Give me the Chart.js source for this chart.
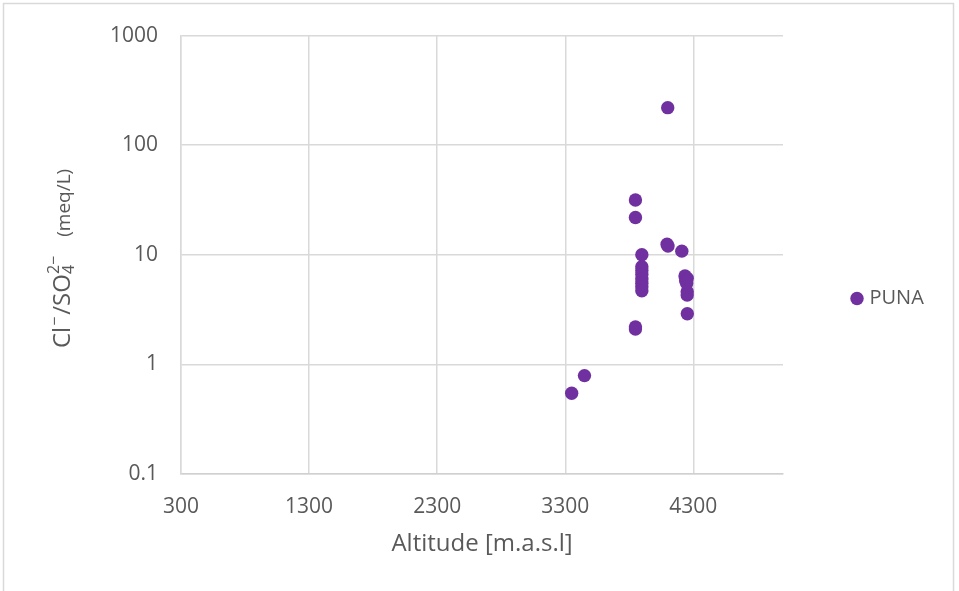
<!DOCTYPE html>
<html>
<head>
<meta charset="utf-8">
<title>PUNA – Cl/SO4 vs altitude</title>
<script src="https://cdn.jsdelivr.net/npm/chart.js@4.4.1/dist/chart.umd.min.js"></script>
<style>
  html, body { margin: 0; padding: 0; background: #ffffff; }
  #wrap { width: 959px; height: 591px; position: relative; }
</style>
</head>
<body>
<div id="wrap"><canvas id="chart" width="959" height="591"></canvas></div>
<script>
// Sample altitudes (m a.s.l.) and Cl-/SO4 2- ratios (meq/L), PUNA group
const seriesName = 'PUNA';
const altitude = [
  4100, 3848, 3848, 4095, 4102, 4210, 3898,
  3898, 3898, 3898, 3898, 3898, 3898, 3898,
  4235, 4252, 4240, 4248, 4252, 4252, 4253,
  3848, 3848, 3450, 3350
];
const clSo4Ratio = [
  220, 31.6, 21.9, 12.5, 12.0, 10.8, 10.0,
  7.8, 7.2, 6.6, 6.0, 5.5, 5.1, 4.7,
  6.4, 6.1, 5.8, 5.5, 4.6, 4.3, 2.9,
  2.2, 2.1, 0.79, 0.545
];
const xTicks = [300, 1300, 2300, 3300, 4300];
const yTicks = [0.1, 1, 10, 100, 1000];
const xRange = [300, 5000];
const yRange = [0.1, 1000];

const FONT = "'Open Sans', 'Liberation Sans', sans-serif";
const TEXT = '#595959';
const GRID = '#d9d9d9';
const PURPLE = '#7030a0';

const points = altitude.map((x, i) => ({ x: x, y: clSo4Ratio[i] }));

// Light frame around the whole chart
const framePlugin = {
  id: 'frame',
  beforeDraw(chart) {
    const ctx = chart.ctx;
    ctx.save();
    ctx.fillStyle = '#ffffff';
    ctx.fillRect(0, 0, chart.width, chart.height);
    ctx.strokeStyle = '#d9d9d9';
    ctx.lineWidth = 1.5;
    ctx.strokeRect(3.5, 3.5, 950, 600);
    ctx.restore();
  }
};

// Vertical axis title with chemical sub/superscripts
const yTitlePlugin = {
  id: 'yTitle',
  afterDraw(chart) {
    const ctx = chart.ctx;
    const parts = [
      { t: 'Cl', size: 24, dy: 0, gapAfter: 1 },
      { t: '\u2212', size: 16, dy: -10, gapAfter: 2 },
      { t: '/SO', size: 24, dy: 0 },
      { stack: [{ t: '4', size: 16, dy: 4 }, { t: '2\u2212', size: 16, dy: -11 }], gapAfter: 19 },
      { t: '(meq/L)', size: 19, dy: 0 }
    ];
    ctx.save();
    ctx.translate(70, 348);
    ctx.rotate(-Math.PI / 2);
    ctx.fillStyle = TEXT;
    ctx.textBaseline = 'alphabetic';
    ctx.textAlign = 'left';
    let x = 0;
    parts.forEach(p => {
      if (p.stack) {
        let w = 0;
        p.stack.forEach(s => {
          ctx.font = s.size + 'px ' + FONT;
          ctx.fillText(s.t, x, s.dy);
          w = Math.max(w, ctx.measureText(s.t).width);
        });
        x += w + (p.gapAfter || 0);
      } else {
        ctx.font = p.size + 'px ' + FONT;
        ctx.fillText(p.t, x, p.dy);
        x += ctx.measureText(p.t).width + (p.gapAfter || 0);
      }
    });
    ctx.restore();
  }
};

// Legend sits to the right, vertically centred on the whole canvas
const legendPlacePlugin = {
  id: 'legendPlace',
  beforeLayout(chart) {
    const lg = chart.legend;
    if (lg && !lg._fixedFit) {
      const fit = lg.fit;
      lg.fit = function () {
        fit.call(this);
        if (this.isHorizontal && !this.isHorizontal()) this.width = 176;
      };
      lg._fixedFit = true;
    }
  },
  afterLayout(chart) {
    const lg = chart.legend;
    if (lg) { lg.top = 6; lg.bottom = 591; lg.height = lg.bottom - lg.top; }
  }
};

new Chart(document.getElementById('chart'), {
  type: 'scatter',
  data: {
    datasets: [{
      label: seriesName,
      data: points,
      backgroundColor: PURPLE,
      borderColor: PURPLE,
      borderWidth: 0,
      pointRadius: 6.7,
      pointHoverRadius: 6.7
    }]
  },
  options: {
    responsive: false,
    animation: false,
    devicePixelRatio: 1,
    layout: { padding: { top: 32, right: 0, bottom: 0, left: 0 } },
    plugins: {
      tooltip: { enabled: false },
      legend: {
        display: true,
        position: 'right',
        labels: {
          usePointStyle: true,
          pointStyle: 'circle',
          boxWidth: 5,
          boxHeight: 9.5,
          padding: 71.5,
          color: TEXT,
          font: { family: FONT, size: 20 }
        }
      }
    },
    scales: {
      x: {
        type: 'linear',
        min: xRange[0],
        max: xRange[1],
        afterFit(s) { s.height = 117; },
        afterBuildTicks(s) { s.ticks = xTicks.map(v => ({ value: v })); },
        grid: { color: GRID, lineWidth: 1.5, drawTicks: false },
        border: { color: '#d0d0d0', width: 1.5 },
        ticks: {
          padding: 20,
          color: TEXT,
          font: { family: FONT, size: 21 },
          maxRotation: 0,
          callback: v => String(v)
        },
        title: {
          display: true,
          text: 'Altitude [m.a.s.l]',
          color: TEXT,
          font: { family: FONT, size: 24 },
          padding: { top: 0, bottom: 32 }
        }
      },
      y: {
        type: 'logarithmic',
        min: yRange[0],
        max: yRange[1],
        afterFit(s) { s.width = 181; },
        afterBuildTicks(s) { s.ticks = yTicks.map(v => ({ value: v })); },
        grid: { color: GRID, lineWidth: 1.5, drawTicks: false },
        border: { color: GRID, width: 1.5 },
        ticks: {
          padding: 23,
          color: TEXT,
          font: { family: FONT, size: 21 },
          callback: v => String(v)
        }
      }
    }
  },
  plugins: [framePlugin, yTitlePlugin, legendPlacePlugin]
});
</script>
</body>
</html>
